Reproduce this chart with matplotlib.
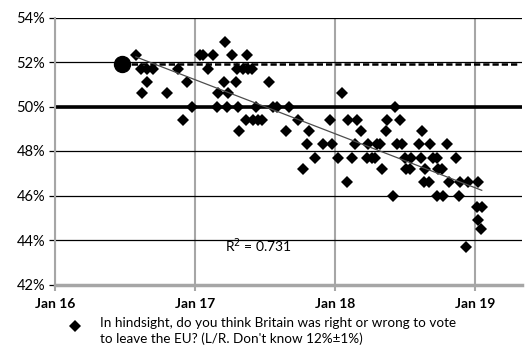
import numpy as np
import pandas as pd
import matplotlib
matplotlib.use('Agg')
import matplotlib.pyplot as plt
import matplotlib.dates as mdates
from matplotlib.lines import Line2D


# poll dates and "right to leave" share (excl. don't knows)
poll_dates = [
    '2016-07-30', '2016-08-12', '2016-08-28', '2016-09-12', '2016-08-27',
    '2016-08-15', '2016-10-19', '2016-11-17', '2016-12-10', '2016-11-30',
    '2016-12-23',
    '2017-01-14', '2017-01-22', '2017-02-16', '2017-02-03', '2017-03-19',
    '2017-04-06', '2017-05-16', '2017-04-19', '2017-05-05', '2017-05-18',
    '2017-05-29', '2017-03-17', '2017-04-17', '2017-07-12', '2017-03-01',
    '2017-03-27', '2017-02-26', '2017-03-24', '2017-04-22', '2017-06-08',
    '2017-07-22', '2017-08-02', '2017-09-02', '2017-05-13', '2017-05-31',
    '2017-06-13', '2017-06-24', '2017-09-26', '2017-04-25', '2017-08-25',
    '2017-10-19', '2017-10-09', '2017-10-24', '2017-11-09', '2017-12-18',
    '2017-11-30', '2017-12-23',
    '2018-01-08', '2018-01-18', '2018-01-31', '2018-02-03', '2018-02-26',
    '2018-02-13', '2018-02-21', '2018-03-09', '2018-03-24', '2018-03-27',
    '2018-04-06', '2018-04-14', '2018-04-20', '2018-04-27', '2018-05-03',
    '2018-05-13', '2018-05-16', '2018-05-31', '2018-06-05', '2018-06-19',
    '2018-06-11', '2018-06-24', '2018-07-02', '2018-07-17', '2018-07-04',
    '2018-07-15', '2018-08-07', '2018-08-15', '2018-08-13', '2018-08-23',
    '2018-08-20', '2018-09-02', '2018-09-05', '2018-09-13', '2018-09-23',
    '2018-09-26', '2018-10-06', '2018-09-23', '2018-10-09', '2018-10-19',
    '2018-10-24', '2018-11-12', '2018-11-20', '2018-11-22', '2018-12-08',
    '2018-12-13',
    '2019-01-08', '2019-01-05', '2019-01-18', '2019-01-08', '2019-01-16',
]
right_share = [
    52.3, 51.7, 51.7, 51.7, 51.1,
    50.6, 50.6, 51.7, 51.1, 49.4,
    50.0,
    52.3, 52.3, 52.3, 51.7, 52.9,
    52.3, 52.3, 51.7, 51.7, 51.7,
    51.7, 51.1, 51.1, 51.1, 50.6,
    50.6, 50.0, 50.0, 50.0, 50.0,
    50.0, 50.0, 50.0, 49.4, 49.4,
    49.4, 49.4, 49.4, 48.9, 48.9,
    48.3, 47.2, 48.9, 47.7, 49.4,
    48.3, 48.3,
    47.7, 50.6, 46.6, 49.4, 49.4,
    47.7, 48.3, 48.9, 47.7, 48.3,
    47.7, 47.7, 48.3, 48.3, 47.2,
    48.9, 49.4, 46.0, 50.0, 49.4,
    48.3, 48.3, 47.7, 47.7, 47.2,
    47.2, 48.3, 48.9, 47.7, 47.2,
    46.6, 46.6, 48.3, 47.7, 47.7,
    47.2, 47.2, 46.0, 46.0, 48.3,
    46.6, 47.7, 46.0, 46.6, 43.7,
    46.6,
    46.6, 45.5, 45.5, 44.9, 44.5,
]

referendum_date = '2016-06-23'
referendum_share = 51.9

y_ticks = [42, 44, 46, 48, 50, 52, 54]
x_ticks = ['2016-01-01', '2017-01-01', '2018-01-01', '2019-01-01']
r2_label = 'R$^2$ = 0.731'
legend_label = ('In hindsight, do you think Britain was right or wrong to vote\n'
                'to leave the EU? (L/R. Don\'t know 12%\u00b11%)')

plt.rcParams['font.family'] = ['Lato', 'DejaVu Sans']

fig = plt.figure(figsize=(5.25, 3.51), dpi=100)
ax = fig.add_axes([55 / 525, 1 - 284.5 / 351, 467 / 525, 267 / 351])

dates = pd.to_datetime(poll_dates)
xnum = mdates.date2num(dates)
ref_x = mdates.date2num(pd.Timestamp(referendum_date))

ax.set_xlim(mdates.date2num(pd.Timestamp('2016-01-01')),
            mdates.date2num(pd.Timestamp('2019-05-03')))
ax.set_ylim(42, 54)

# gridlines
for t in x_ticks:
    ax.axvline(mdates.date2num(pd.Timestamp(t)), color='#a6a6a6', lw=1.5, zorder=1)
for v in y_ticks:
    ax.axhline(v, color='black', lw=0.9, zorder=1)
ax.axhline(50, color='black', lw=2.6, zorder=2)

# referendum result, carried forward as dashed line
ax.plot([ref_x, ax.get_xlim()[1] - 10], [referendum_share] * 2,
        color='black', lw=1.8, ls=(0, (2.5, 1.2)), zorder=2)
ax.plot(ref_x, referendum_share, 'o', color='black', ms=11.5, zorder=4)

# polls
ax.plot(xnum, right_share, 'D', color='black', ms=6, mew=0, zorder=3)

# linear trend
slope, icpt = np.polyfit(xnum, right_share, 1)
tx = np.array([xnum.min(), xnum.max()])
ax.plot(tx, slope * tx + icpt, color='#4d4d4d', lw=0.9, zorder=3)

ax.text(0.364, 0.145, r2_label, transform=ax.transAxes, fontsize=10,
        ha='left', va='center')

ax.set_yticks(y_ticks)
ax.set_yticklabels([f'{v}%' for v in y_ticks], fontsize=10.5)
ax.set_xticks([mdates.date2num(pd.Timestamp(t)) for t in x_ticks])
ax.xaxis.set_major_formatter(mdates.DateFormatter('%b %y'))
for lab in ax.get_xticklabels():
    lab.set_fontweight('bold')
    lab.set_fontsize(10)

ax.tick_params(axis='y', length=4, width=0.9, color='black', pad=3)
ax.tick_params(axis='x', length=4, width=1.5, color='#a6a6a6', pad=6)

for s in ['top', 'right']:
    ax.spines[s].set_visible(False)
ax.spines['left'].set_color('#a6a6a6')
ax.spines['left'].set_linewidth(1.5)
ax.spines['bottom'].set_color('#a6a6a6')
ax.spines['bottom'].set_linewidth(2.5)

# legend below the plot
fig.add_artist(Line2D([75 / 525], [1 - 326 / 351], marker='D', color='black',
                      ms=6, mew=0, transform=fig.transFigure))
fig.text(100 / 525, 1 - 317 / 351, legend_label, fontsize=9.7, va='top',
         ha='left', linespacing=1.3)

fig.savefig('out.png', dpi=100)
